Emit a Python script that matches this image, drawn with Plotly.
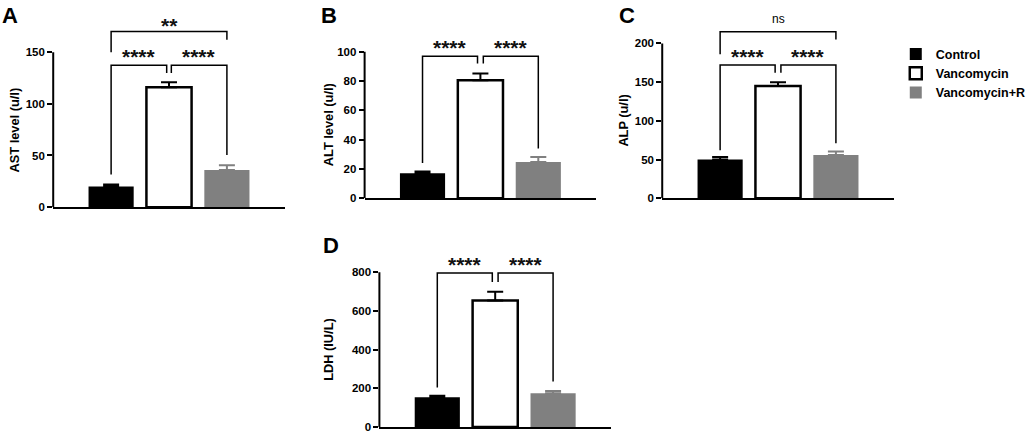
import plotly.graph_objects as go

W, H = 1031, 439

# ---------------- data ----------------
groups = ["Control", "Vancomycin", "Vancomycin+R"]
ast_mean = [20, 116, 36]
ast_err = [2, 5, 4.5]
alt_mean = [17, 80.5, 24.7]
alt_err = [1.3, 4.6, 3.4]
alp_mean = [50, 145, 56]
alp_err = [3.4, 5, 4.3]
ldh_mean = [154, 654, 175]
ldh_err = [8, 45, 11]

# significance brackets: (x0, x1, height, leg0_bottom, leg1_bottom, label)
ast_sig = [(0, 0.96, 137.5, 31.5, 130, "****"), (1.04, 2, 137.5, 130, 50.6, "****"),
           (0, 2, 170, 150, 162, "**")]
alt_sig = [(0, 0.95, 97, 24, 92, "****"), (1.05, 2, 97, 92, 34, "****")]
alp_sig = [(0, 0.95, 172, 62, 162, "****"), (1.05, 2, 172, 162, 71, "****"),
           (0, 2, 215, 186, 205, "ns")]
ldh_sig = [(0, 0.95, 796, 205, 750, "****"), (1.05, 2, 796, 750, 236, "****")]

# ---------------- styling / layout ----------------
FONT = "Liberation Sans, Arial, sans-serif"
fills = ["#000000", "#ffffff", "#808080"]
line_w = [0, 2.5, 0]
err_col = ["#000000", "#000000", "#808080"]

panels = [
    dict(letter="A", mean=ast_mean, err=ast_err, sig=ast_sig, title="AST level (u/l)",
         ticks=[0, 50, 100, 150], yr=190, xpx=(54, 289), ypx=(11.1, 210), tx=15, lpos=(0, 16)),
    dict(letter="B", mean=alt_mean, err=alt_err, sig=alt_sig, title="ALT level (u/l)",
         ticks=[0, 20, 40, 60, 80, 100], yr=115, xpx=(370, 605), ypx=(30.2, 201), tx=333, lpos=(324, 16)),
    dict(letter="C", mean=alp_mean, err=alp_err, sig=alp_sig, title="ALP (u/l)",
         ticks=[0, 50, 100, 150, 200], yr=245, xpx=(672, 907), ypx=(8.7, 201), tx=633, lpos=(626, 16)),
    dict(letter="D", mean=ldh_mean, err=ldh_err, sig=ldh_sig, title="LDH (IU/L)",
         ticks=[0, 200, 400, 600, 800], yr=900, xpx=(385, 620), ypx=(256.4, 433), tx=334, lpos=(326, 249)),
]

fig = go.Figure()
shapes = []
annotations = []

for k, p in enumerate(panels):
    n = "" if k == 0 else str(k + 1)
    xa, ya = "x" + n, "y" + n
    for i, g in enumerate(groups):
        fig.add_trace(go.Bar(
            x=[i], y=[p["mean"][i]], width=0.78, name=g,
            marker=dict(color=fills[i], line=dict(color="#000000", width=line_w[i])),
            error_y=dict(type="data", symmetric=False, array=[p["err"][i]], arrayminus=[0],
                         color=err_col[i], thickness=2, width=8),
            xaxis=xa, yaxis=ya, showlegend=(k == 0), legendgroup=g,
        ))
    x0f, x1f = p["xpx"][0] / W, p["xpx"][1] / W
    y0f, y1f = 1 - p["ypx"][1] / H, 1 - p["ypx"][0] / H
    fig.layout["xaxis" + n] = dict(
        domain=[x0f, x1f], range=[-1, 3], showline=True, linecolor="black", linewidth=2,
        showticklabels=False, ticks="", showgrid=False, zeroline=False, anchor=ya, fixedrange=True)
    fig.layout["yaxis" + n] = dict(
        domain=[y0f, y1f], range=[0, p["yr"]], tickvals=p["ticks"], ticks="outside",
        ticklen=5, tickwidth=2, tickcolor="black", showline=False, showgrid=False,
        zeroline=False, anchor=xa, fixedrange=True,
        tickfont=dict(family=FONT, size=11.5, color="black", weight="bold"))
    # y-axis title
    annotations.append(dict(
        x=p["tx"] / W, y=p["ticks"][-1] / 2, xref="paper", yref=ya, text=p["title"],
        textangle=-90, showarrow=False, xanchor="center", yanchor="middle",
        font=dict(family=FONT, size=12.8, color="black", weight="bold")))
    # y-axis line up to top tick
    shapes.append(dict(type="line", xref=xa + " domain", yref=ya, x0=0, x1=0,
                       y0=0, y1=p["ticks"][-1], line=dict(color="black", width=2)))
    # brackets
    for (bx0, bx1, bh, l0, l1, lab) in p["sig"]:
        shapes.append(dict(type="path", xref=xa, yref=ya,
                           path=f"M {bx0},{l0} L {bx0},{bh} L {bx1},{bh} L {bx1},{l1}",
                           line=dict(color="black", width=1.5)))
        is_ns = lab == "ns"
        if is_ns:
            fnt, shift = dict(family=FONT, size=12, color="black", weight="normal"), 4
        else:
            fnt = dict(family=FONT, size=21, color="#111111", weight="bold")
            shift = -5 if lab == "****" else -7
        annotations.append(dict(
            x=(bx0 + bx1) / 2, y=bh, xref=xa, yref=ya, text=lab, showarrow=False,
            yanchor="bottom", xanchor="center", yshift=shift, font=fnt))
    annotations.append(dict(
        x=p["lpos"][0] / W, y=1 - p["lpos"][1] / H, xref="paper", yref="paper",
        text=p["letter"], showarrow=False, xanchor="left", yanchor="middle",
        font=dict(family=FONT, size=22, color="black", weight="bold")))

fig.update_layout(
    width=W, height=H, margin=dict(l=0, r=0, t=0, b=0),
    paper_bgcolor="white", plot_bgcolor="white",
    barmode="overlay", shapes=shapes, annotations=annotations,
    showlegend=True,
    legend=dict(x=909 / W, y=1 - 40 / H, xanchor="left", yanchor="top",
                font=dict(family=FONT, size=12.5, color="black", weight="bold"),
                bgcolor="rgba(0,0,0,0)", tracegroupgap=0, itemwidth=30),
)

fig.write_html("out.html", config={"displayModeBar": False},
               post_script="document.body.style.margin='0';")
